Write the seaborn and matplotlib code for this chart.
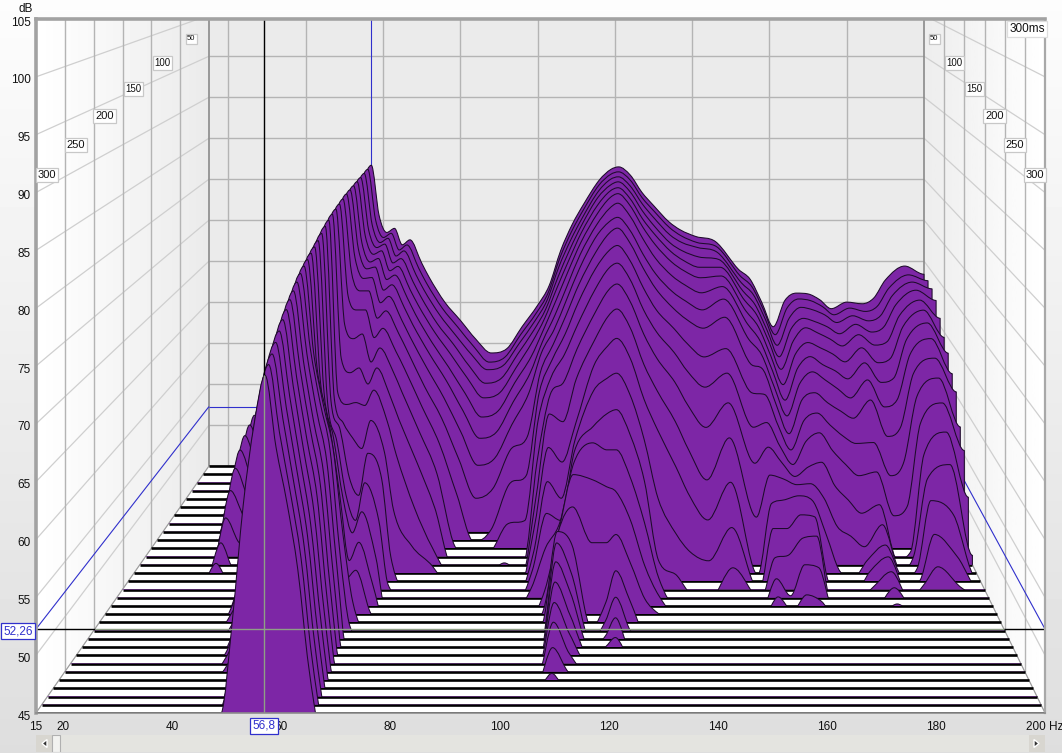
import numpy as np
import matplotlib
matplotlib.use("Agg")
import matplotlib.pyplot as plt
import pandas as pd
import seaborn as sns
from matplotlib.patches import PathPatch, Polygon, Rectangle
from matplotlib.path import Path
from matplotlib.transforms import ScaledTranslation

# one slice every 10 ms, 0 ms at the back of the plot
times = list(range(0, 310, 10))
silent = 44

# level in dB at each frequency, one value per slice, quiet slices left off the end
level_15 = []
level_27 = [46.5, 46.5, 46.3, 46, 45.8, 45.5, 45.2]
level_30 = [50.5, 50.5, 50.3, 50, 49.8, 49.5, 49, 48.5, 47.5, 46, 45]
level_33 = [56.5, 56.5, 56.3, 56, 55.8, 55.5, 55.2, 54.8, 54, 52.8, 51.2, 49.1, 47.3, 46]
level_36 = [52, 52, 52, 51.8, 51.5, 51.3, 51, 50.8, 50.3, 49.5, 48.5, 46.5, 44.5]
level_39 = [49, 49, 49, 49, 49, 48.8, 48.6, 48.3, 48, 47.6, 47.2, 46, 45, 45, 45]
level_42 = [54, 54, 54, 53.8, 53.6, 53.4, 53.2, 53, 52.8, 52.5, 52.2, 51.8, 51.4, 50.8, 50, 49, 48, 47.2, 46.5, 45.8, 44.8]
level_46 = [60, 60, 60, 60, 59.8, 59.6, 59.4, 59.2, 58.8, 58.4, 58, 57.2, 56.4, 55.6, 54.6, 53.6, 52.6, 51.6, 50.6, 49.6, 48.6, 48, 47.4, 46.8, 46.2, 45.4]
level_49 = [67, 67, 67, 66.8, 66.6, 66.4, 66.2, 66, 65.6, 65, 64.2, 63.4, 62.4, 61.2, 60, 58.8, 57.6, 56.4, 55.2, 54, 53, 52.2, 51.4, 50.6, 49.8, 49, 48.2, 47.4, 46.6, 45.8, 45]
level_51 = [71.5, 71.5, 71.5, 71.4, 71.2, 71, 70.8, 70.4, 70, 69.5, 69, 68.2, 67.4, 66.4, 65.4, 64.4, 63.2, 62, 61, 60, 59, 58.2, 57.4, 56.6, 55.8, 55.2, 54.6, 54.2, 53.8, 53.4, 53]
level_53 = [76.5, 76.5, 76.5, 76.4, 76.3, 76.2, 76.1, 76, 75.9, 75.7, 75.5, 75.2, 74.8, 74.4, 73.8, 73.2, 72.6, 72, 71.4, 70.8, 70.2, 69.6, 69, 68.4, 67.8, 67.2, 66.6, 66, 65.4, 64.5, 63]
level_55 = [80, 80, 80, 80, 79.9, 79.9, 79.8, 79.8, 79.7, 79.6, 79.5, 79.3, 79.1, 78.9, 78.6, 78.3, 78, 77.7, 77.3, 76.9, 76.5, 76, 75.5, 75, 74.5, 74, 73.5, 73, 72.3, 71.3, 70]
level_57 = [81.7, 81.7, 81.7, 81.7, 81.7, 81.7, 81.7, 81.7, 81.6, 81.5, 81.4, 81.3, 81.1, 80.9, 80.6, 80.3, 80.1, 79.9, 79.7, 79.5, 79.2, 78.8, 78.4, 78, 77.5, 77, 76.4, 75.8, 75.2, 74.7, 74.2]
level_59 = [75.6, 75.6, 75.6, 75.5, 75.4, 75.2, 75, 74.6, 73.5, 71.5, 69, 66, 63, 63, 63.5, 64, 65.5, 67, 69, 71, 72, 72, 71.8, 71.6, 71.3, 71, 70.5, 70, 69.5, 68.8, 68]
level_61 = [73.5, 73.5, 73.5, 73.5, 73.3, 73, 72.8, 72.3, 71.5, 70, 67.5, 64.5, 61.8, 60.5, 60.5, 60, 61, 62.5, 64.5, 66, 66.8, 66.5, 66.2, 66, 65.6, 65.2, 64.8, 64.4, 64, 63.6, 63.2]
level_63 = [74, 74, 74, 73.9, 73.7, 73.4, 73, 72.4, 71.5, 70, 68, 65, 62, 59, 55.6, 54.5, 55, 56, 58, 61.7, 62.3, 61.8, 61.3, 60.8, 60.3, 59.6, 59, 58.6, 58.2, 57.8, 57.4]
level_65 = [72, 72, 71.9, 71.7, 71.4, 71, 70.4, 69.6, 68.5, 67, 65, 63.3, 61.7, 57.9, 53.8, 52, 51.5, 49.5, 48.5, 53.5, 52.5, 52, 51.5, 51, 50.7, 50.4, 50.1, 49.8, 49.5, 49.2, 49]
level_67 = [72.6, 72.6, 72.5, 72.2, 71.9, 71.5, 71, 70.3, 69.3, 68, 66.5, 65, 63.3, 60.8, 58.1, 55.8, 53.6, 51.3, 49.3, 47, 45.5]
level_70 = [69.8, 69.8, 69.7, 69.5, 69.2, 68.9, 68.4, 67.7, 66.8, 65.5, 64, 62, 60, 57.5, 55.5, 52, 49, 47, 45.2]
level_72 = [68, 68, 67.9, 67.7, 67.4, 67, 66.5, 65.8, 64.9, 63.6, 61.8, 59.5, 56.5, 51.5, 47.5, 45.5]
level_76 = [65, 65, 64.9, 64.6, 64.3, 63.8, 63.2, 62.3, 61, 59.5, 57.5, 55, 51, 47.8]
level_80 = [62.8, 62.7, 62.5, 62.2, 61.7, 61, 60.2, 59, 57.5, 55.5, 53, 50.2, 46.8, 46]
level_84 = [60.5, 60.4, 60.2, 59.6, 59, 58, 56.8, 55.2, 53, 50, 45.3]
level_88 = [58.8, 58.5, 58.4, 57.6, 56.7, 55.3, 53.7, 51.5, 48.7, 44.8]
level_92 = [59.3, 59.1, 58.9, 58.2, 57.3, 56, 54.4, 52.3, 49.8, 46.2, 44.5]
level_96 = [62, 61.8, 61.5, 61, 60.2, 59.2, 57.8, 56, 54, 51, 47.6, 44.5, 45.2]
level_100 = [64.6, 64.4, 64.2, 63.8, 63.2, 62.2, 61, 59.5, 55.5, 52, 48, 44.5]
level_103 = [67, 66.8, 66.6, 66.3, 65.9, 65.3, 64.6, 64, 62.5, 61, 58.7, 55, 52, 50, 48, 47, 46]
level_106 = [71.3, 71, 70.6, 70, 69.4, 68.6, 67.6, 66.6, 65.6, 64.6, 63.4, 62.2, 60.8, 58, 55.2, 52.7, 50, 46.5, 45.5, 45]
level_109 = [74.5, 74.2, 73.8, 73.3, 72.7, 72, 71, 70, 68.8, 67.4, 65.8, 63.5, 60, 56.5, 53.5, 52, 52.5, 52.5, 53, 53.8, 53.4, 52.3, 51.1, 49.9, 48.8, 47.2, 45.6]
level_112 = [77, 76.8, 76.5, 76.2, 75.8, 75.2, 74.4, 73.4, 72.2, 70.8, 69, 67, 64.5, 60.5, 59.5, 59, 58.5, 58, 55.5, 52.5, 50.5, 49.3, 48, 47, 46, 45]
level_116 = [79.9, 79.8, 79.6, 79.4, 79, 78.5, 77.8, 77, 75.8, 74.5, 72.8, 70.8, 68.5, 66.5, 64.5, 61.5, 60.5, 57.5, 52, 44.5]
level_119 = [81.2, 81.1, 81, 80.8, 80.6, 80.3, 79.6, 78.6, 77.8, 76.4, 75, 73.2, 71, 68.5, 65.8, 62.8, 59.8, 56.8, 52, 47, 46, 45.3, 45]
level_121 = [81.5, 81.4, 81.3, 81.2, 81, 80.8, 80.2, 79.1, 78.4, 77, 75.6, 73.9, 71.8, 69.3, 66.3, 63.2, 59.8, 56.3, 52.8, 50, 48.2, 47, 45.9]
level_124 = [80.5, 80.4, 80.2, 80, 79.7, 79.4, 78.7, 77.6, 76.7, 75.3, 73.8, 72, 69.8, 67.2, 64, 60.6, 57, 53.5, 50, 47, 45]
level_127 = [78.4, 78.3, 78.1, 77.8, 77.4, 77, 76.2, 75, 74, 72.4, 70.6, 68.6, 66, 63, 59.5, 56, 52.5, 49, 46.5]
level_130 = [76.8, 76.7, 76.4, 76, 75.6, 75, 74, 72.8, 71.7, 70, 68.2, 66, 63.2, 59.8, 53.5, 48, 47, 46, 45]
level_134 = [74.8, 74.7, 74.4, 74, 73.6, 73, 72, 70.8, 69.6, 68, 66, 63.5, 60, 56, 49.8, 46.4]
level_137 = [73.8, 73.7, 73.5, 73.1, 72.6, 72, 71, 69.8, 68.4, 66.4, 64, 61, 57, 53, 48, 44.5]
level_141 = [73, 72.9, 72.9, 72.4, 71.8, 71.2, 70.1, 68.8, 67.4, 64.9, 62.3, 58.7, 53.9, 50.5, 47.1]
level_146 = [72.4, 72.4, 72.3, 72.1, 71.8, 71.4, 70.8, 70, 68.6, 65.8, 63.8, 61.3, 58.3, 54.4, 50.5, 47.2, 44.5]
level_152 = [69, 68.9, 68.7, 68.4, 68, 67.4, 66.6, 65.5, 63.5, 61, 58, 54.9, 50, 44.8]
level_155 = [67.8, 67.6, 67.3, 66.8, 66.3, 65.6, 64.7, 63.8, 62.8, 60.8, 58.5, 56.6, 54.4, 52.2, 50.4, 48.2, 46.9, 45.9]
level_158 = [65, 64.8, 64.4, 63.8, 63.2, 62.3, 61.3, 60.2, 59, 57.5, 56, 55, 54, 52.6, 50.4, 48.5, 45.2, 44.5]
level_161 = [62, 61.8, 61.3, 60.7, 60, 59, 58, 57, 55.8, 54.8, 54, 53.5, 53.4, 53, 51.8, 50.2, 48.3, 46.1]
level_164 = [65.2, 65, 64.5, 64, 63.3, 62.5, 61.6, 60.6, 59.5, 58, 56.5, 54.5, 53.5, 52.5, 51.6, 50.4, 48, 45.5]
level_167 = [66.1, 66.1, 65.8, 65.2, 64.8, 63.8, 62.9, 61.9, 60.3, 58.8, 57.4, 55, 52, 49, 45]
level_170 = [66, 65.9, 65.5, 64.8, 64.2, 63.2, 62, 61, 59.2, 57.5, 55.5, 52.5, 49, 45.2]
level_173 = [65.3, 65.2, 64.9, 64.2, 63.5, 62.5, 61.3, 60, 58.3, 56.3, 54, 51, 48, 44.5]
level_176 = [64.2, 64.2, 64, 63.4, 62.7, 61.6, 60.4, 59, 57.5, 55.5, 52.8, 49.6, 46.9, 46.3, 46, 45.2]
level_180 = [65, 65, 64.8, 64.5, 64, 63.2, 62.2, 61, 59.5, 55.6, 53.2, 50.5, 49.2, 47.9, 47.5, 46.8, 46, 45.2]
level_184 = [64.8, 64.6, 64.2, 63.6, 62.8, 61.5, 60, 58, 55.5, 52, 48.5, 44.7, 44.5, 44.5]
level_187 = [65.5, 65.2, 64.8, 64.2, 63.2, 62, 60.5, 58.8, 56.5, 53.5, 49.5, 45.5, 46, 45.5, 45.2, 45.5]
level_190 = [67.7, 67.4, 67.2, 66.8, 66.2, 65.6, 64.8, 63.8, 62.4, 60.6, 58.4, 55.8, 54, 52.5, 49.8, 47.3]
level_195 = [69.4, 69, 68.8, 68.5, 68, 67.5, 66.7, 65.6, 64.1, 62.6, 60.6, 58.2, 55.5, 51, 47.5, 45.2]
level_200 = [68.4, 68.3, 68, 67.3, 65.9, 64.4, 63.3, 61.7, 60.4, 57.3, 55.5, 51.3, 46, 44.5]

freqs = [15, 27, 30, 33, 36, 39, 42, 46, 49, 51, 53, 55, 57, 59, 61, 63, 65, 67, 70, 72, 76, 80, 84, 88,
         92, 96, 100, 103, 106, 109, 112, 116, 119, 121, 124, 127, 130, 134, 137, 141, 146, 152, 155,
         158, 161, 164, 167, 170, 173, 176, 180, 184, 187, 190, 195, 200]
levels = [level_15, level_27, level_30, level_33, level_36, level_39, level_42, level_46, level_49, level_51,
          level_53, level_55, level_57, level_59, level_61, level_63, level_65, level_67, level_70, level_72,
          level_76, level_80, level_84, level_88, level_92, level_96, level_100, level_103, level_106, level_109,
          level_112, level_116, level_119, level_121, level_124, level_127, level_130, level_134, level_137,
          level_141, level_146, level_152, level_155, level_158, level_161, level_164, level_167, level_170,
          level_173, level_176, level_180, level_184, level_187, level_190, level_195, level_200]

x_ticks = [15, 20, 40, 60, 80, 100, 120, 140, 160, 180, 200]
x_labels = ["15", "20", "40", "60", "80", "100", "120", "140", "160", "180", "200 Hz"]
y_ticks = [45, 50, 55, 60, 65, 70, 75, 80, 85, 90, 95, 100, 105]
time_ticks = [50, 100, 150, 200, 250, 300]
time_sizes = [5.5, 7, 7, 8, 8, 8]
time_label_y = [39, 63, 89, 116, 145, 175]
cursor_freq = 56.8
cursor_db = 52.26

W, H = 1062, 753
PURPLE = "#7d26a6"
GRID = "#b4b4b4"
WALLGRID = "#cfcfcf"
BLUE = "#3030cc"
PALE = "#8f9f86"

sns.set_theme(style="white")
plt.rcParams["font.family"] = ["Liberation Sans", "DejaVu Sans"]


def project(f, db, t):
    # perspective of the waterfall box: 300 ms is the front plane, 0 ms the back plane
    d = 1 - t / 300
    s = 1 - d * (1 - 715 / 1009)
    return 15 + 31.72 * d + (np.asarray(f) - 15) * s, 45 + 21.35 * d + (np.asarray(db) - 45) * s


def smooth_ridge(xs, ys):
    # bezier through the read values, slopes limited so nothing overshoots
    h = np.diff(xs)
    sec = np.diff(ys) / h
    m = np.zeros(len(xs))
    for i in range(1, len(xs) - 1):
        if sec[i - 1] * sec[i] > 0:
            m[i] = np.sign(sec[i]) * min(abs(sec[i - 1] + sec[i]) / 2, 3 * abs(sec[i - 1]), 3 * abs(sec[i]))
    verts = [(xs[0], ys[0])]
    codes = [Path.MOVETO]
    for i in range(len(xs) - 1):
        verts += [(xs[i] + h[i] / 3, ys[i] + m[i] * h[i] / 3),
                  (xs[i + 1] - h[i] / 3, ys[i + 1] - m[i + 1] * h[i] / 3),
                  (xs[i + 1], ys[i + 1])]
        codes += [Path.CURVE4] * 3
    return verts, codes


def line(xs, ys, color, lw, z):
    df = pd.DataFrame({"x": xs, "y": ys})
    sns.lineplot(data=df, x="x", y="y", color=color, linewidth=lw, zorder=z, ax=ax,
                 estimator=None, sort=False, legend=False, solid_capstyle="butt")


fig = plt.figure(figsize=(W / 100, H / 100), dpi=100)

# pale window background
bg = fig.add_axes([0, 0, 1, 1], zorder=-5)
bg.imshow(np.linspace(0.99, 0.87, 200)[:, None], cmap="gray", vmin=0, vmax=1, aspect="auto")
bg.axis("off")

ax = fig.add_axes([36 / W, 1 - 713 / H, 1009 / W, 694 / H])
ax.set_facecolor("#ebebeb")

back_left = project(15, 45, 0)[0]
back_right = project(200, 45, 0)[0]
ax.imshow(np.linspace(1, 0.92, 50)[None, :], cmap="gray", vmin=0, vmax=1, aspect="auto",
          extent=[15, back_left, 45, 105], zorder=0.5)
ax.imshow(np.linspace(0.93, 1, 50)[None, :], cmap="gray", vmin=0, vmax=1, aspect="auto",
          extent=[back_right, 200, 45, 105], zorder=0.5)

# back plane grid
for db in y_ticks:
    xb, yb = project([15, 200], [db, db], 0)
    line(xb, yb, GRID, 1.0, 1)
    for f in (15, 200):
        xs, ys = project([f, f], [db, db], 0)
        xf, yf = project(f, db, 300)
        line([xf, xs[0]], [yf, ys[0]], WALLGRID, 0.9, 1)
for f in x_ticks[1:-1]:
    xb, yb = project([f, f], [45, 110], 0)
    line(xb, yb, GRID, 1.0, 1)
line(*project([15, 15], [45, 110], 0), "#8a8a8a", 1.2, 1.2)
line(*project([200, 200], [45, 110], 0), "#8a8a8a", 1.2, 1.2)
for t in time_ticks:
    if t == 300:
        continue
    for f in (15, 200):
        xt, yt = project(f, 45, t)
        line([xt, xt], [yt, 105], GRID, 1.0, 1)

# cursor lines on the walls and the back plane, the slices hide them
xc, yc = project(cursor_freq, cursor_db, 0)
for f in (15, 200):
    xw, yw = project(f, cursor_db, 0)
    xf, yf = project(f, cursor_db, 300)
    line([xf, xw], [yf, yw], BLUE, 0.8, 2)
line([project(15, cursor_db, 0)[0], xc], [yc, yc], BLUE, 0.8, 2)
xpk, ypk = project(cursor_freq, 75, 0)
line([xpk, xpk], [ypk, 105], BLUE, 0.8, 2)

# floor, painted white, one black stripe per slice is added further down
floor = [project(15, 45, 300), project(200, 45, 300), project(200, 45, 0), project(15, 45, 0)]
ax.add_patch(Polygon(floor, closed=True, facecolor="white", edgecolor="#9a9a9a", linewidth=0.8, zorder=3))

# slices back to front
for k, t in enumerate(times):
    values = [col[k] if k < len(col) else silent for col in levels]
    xs, ys = project(freqs, values, t)
    floor_y = project(15, 45, t)[1]
    x0, x1 = project([15, 200], [45, 45], t)[0]
    z = 5 + k * 0.1

    line([x0, x1], [floor_y, floor_y], "black", 1.9, z)

    verts, codes = smooth_ridge(xs, ys)
    clip = Rectangle((15, floor_y), 185, 70, transform=ax.transData)
    fill = PathPatch(Path(verts + [(xs[-1], floor_y), (xs[0], floor_y), verts[0]],
                          codes + [Path.LINETO, Path.LINETO, Path.CLOSEPOLY]),
                     facecolor=PURPLE, edgecolor="none", zorder=z + 0.02)
    outline = PathPatch(Path(verts + [(xs[-1], floor_y)], codes + [Path.LINETO]),
                        facecolor="none", edgecolor="#1d0b2a", linewidth=0.75, zorder=z + 0.04)
    for patch in (fill, outline):
        ax.add_patch(patch)
        patch.set_clip_path(clip)

# cursor on the front plane, drawn over everything
line([cursor_freq, cursor_freq], [74.2, 105], "black", 1.0, 12)
line([cursor_freq, cursor_freq], [45, 74.2], PALE, 1.0, 12)
xl = project(15, 45, 300 * (1 - (cursor_db - 45) / 21.35))[0]
xr = project(200, 45, 300 * (1 - (cursor_db - 45) / 21.35))[0]
line([15, xl], [cursor_db, cursor_db], "black", 1.0, 12)
line([xl, xr], [cursor_db, cursor_db], PALE, 1.0, 12)
line([xr, 200], [cursor_db, cursor_db], "black", 1.0, 12)

ax.set_xlim(15, 200)
ax.set_ylim(45, 105)
ax.set_xticks(x_ticks, x_labels)
ax.set_yticks(y_ticks)
ax.set(xlabel="", ylabel="")
ax.tick_params(length=0, labelsize=8.5, colors="#111111")
ax.tick_params(axis="y", pad=4)
ax.tick_params(axis="x", pad=6)
nudge = ScaledTranslation(0, -2 / 100, fig.dpi_scale_trans)
for label in ax.get_yticklabels():
    label.set_transform(label.get_transform() + nudge)
for side, width, col in (("left", 2.6, "#a2a2a2"), ("top", 2.6, "#a2a2a2"), ("right", 1.6, "#a8a8a8"), ("bottom", 1.2, "#8c8c8c")):
    ax.spines[side].set_visible(True)
    ax.spines[side].set_linewidth(width)
    ax.spines[side].set_color(col)
    ax.spines[side].set_zorder(20)


def px_text(x, y, s, size, edge="#c8c8c8", color="#111111"):
    fig.text(x / W, 1 - y / H, s, fontsize=size, ha="center", va="center", color=color, zorder=30,
             bbox=dict(boxstyle="square,pad=0.18", facecolor="white", edgecolor=edge, linewidth=0.9))


# time labels on both walls
for t, size, y in zip(time_ticks, time_sizes, time_label_y):
    left_edge = 36 + 173 * (1 - t / 300)
    right_edge = 1045 - 121 * (1 - t / 300)
    px_text(left_edge + 11, y, str(t), size)
    px_text(right_edge - 10, y, str(t), size)
px_text(1027, 29, "300ms", 8.5, edge="#dddddd")
fig.text(26 / W, 1 - 9 / H, "dB", fontsize=8.5, ha="center", va="center", color="#111111")

# cursor read-outs
px_text(18, 631, "52,26", 8.5, edge=BLUE, color=BLUE)
px_text(264, 726, "56,8", 8.5, edge=BLUE, color=BLUE)

# scroll bar under the plot
bar = fig.add_axes([36 / W, 1 - 752 / H, 1009 / W, 17 / H])
bar.set_xlim(36, 1045)
bar.set_ylim(0, 17)
bar.set_facecolor("#e4e4e0")
bar.set_xticks([])
bar.set_yticks([])
for s in bar.spines.values():
    s.set_visible(False)
bar.add_patch(Rectangle((36, 0), 16, 17, facecolor="#d8d6d0", edgecolor="none"))
bar.add_patch(Rectangle((1029, 0), 16, 17, facecolor="#d8d6d0", edgecolor="none"))
bar.add_patch(Rectangle((52, 0), 8, 17, facecolor="#f2f2f0", edgecolor="#b0b0b0", linewidth=0.8))
bar.add_patch(Polygon([(42, 8.5), (47, 12.5), (47, 4.5)], facecolor="#333333"))
bar.add_patch(Polygon([(1039, 8.5), (1034, 12.5), (1034, 4.5)], facecolor="#333333"))

fig.savefig("out.png", dpi=100)
